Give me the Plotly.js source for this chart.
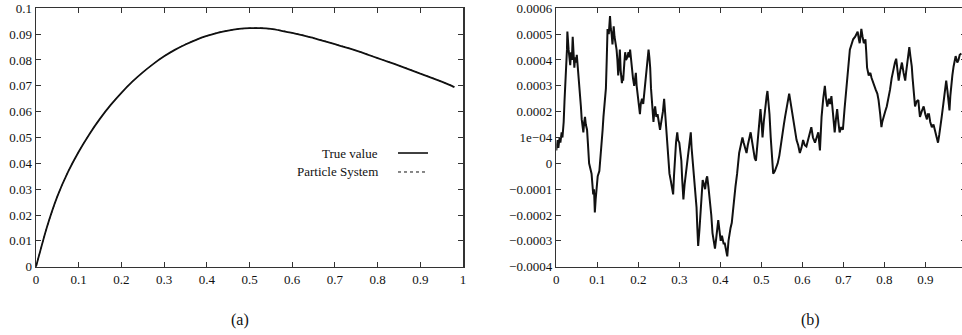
<!DOCTYPE html>
<html>
<head>
<meta charset="utf-8">
<script src="https://cdn.plot.ly/plotly-3.0.1.min.js"></script>
<style>
html, body { margin: 0; padding: 0; overflow: hidden; background: #fff; }
#chart { width: 980px; height: 335px; }
</style>
</head>
<body>
<div id="chart"></div>
<script>
// ---- Panel (a): true value vs particle system ----
const tA = [0, 0.025, 0.05, 0.075, 0.1, 0.125, 0.15, 0.175, 0.2, 0.225, 0.25, 0.275, 0.3, 0.325, 0.35, 0.375, 0.4, 0.425, 0.45, 0.475, 0.5, 0.525, 0.55, 0.575, 0.6, 0.625, 0.65, 0.675, 0.7, 0.725, 0.75, 0.775, 0.8, 0.825, 0.85, 0.875, 0.9, 0.925, 0.95, 0.975, 0.98];
const trueValue = [0, 0.0150, 0.0272, 0.0367, 0.0445, 0.0513, 0.0573, 0.0626, 0.0673, 0.0715, 0.0752, 0.0785, 0.0814, 0.0839, 0.0860, 0.0878, 0.0893, 0.0905, 0.0914, 0.0920, 0.0923, 0.0923, 0.0920, 0.0913, 0.0905, 0.0895, 0.0885, 0.0873, 0.0861, 0.0849, 0.0836, 0.0822, 0.0807, 0.0793, 0.0778, 0.0763, 0.0747, 0.0732, 0.0716, 0.0699, 0.0695];
const particleSystem = [0, 0.0150, 0.0272, 0.0368, 0.0445, 0.0513, 0.0574, 0.0626, 0.0673, 0.0716, 0.0752, 0.0785, 0.0815, 0.0839, 0.0861, 0.0878, 0.0893, 0.0906, 0.0914, 0.0920, 0.0923, 0.0924, 0.0920, 0.0914, 0.0905, 0.0896, 0.0885, 0.0874, 0.0861, 0.0850, 0.0836, 0.0823, 0.0807, 0.0794, 0.0778, 0.0764, 0.0747, 0.0733, 0.0716, 0.0700, 0.0695];
const legendNames = ["True value", "Particle System"];

// ---- Panel (b): error ----
const tB = [0.000,0.003,0.005,0.008,0.010,0.013,0.015,0.018,0.020,0.022,0.024,0.026,0.027,0.028,0.030,0.032,0.034,0.036,0.038,0.040,0.042,0.044,0.046,0.048,0.050,0.052,0.054,0.056,0.058,0.060,0.062,0.064,0.066,0.068,0.070,0.072,0.075,0.077,0.080,0.083,0.086,0.088,0.090,0.092,0.094,0.096,0.098,0.101,0.105,0.108,0.110,0.113,0.115,0.117,0.119,0.121,0.123,0.125,0.128,0.131,0.133,0.135,0.137,0.140,0.142,0.143,0.145,0.147,0.149,0.151,0.153,0.155,0.157,0.160,0.162,0.163,0.166,0.168,0.170,0.173,0.176,0.178,0.180,0.182,0.184,0.187,0.190,0.192,0.194,0.196,0.198,0.201,0.204,0.206,0.209,0.212,0.215,0.218,0.220,0.223,0.225,0.227,0.229,0.231,0.233,0.235,0.237,0.239,0.241,0.244,0.247,0.250,0.253,0.255,0.257,0.260,0.263,0.266,0.269,0.271,0.273,0.276,0.279,0.282,0.285,0.287,0.289,0.292,0.295,0.297,0.300,0.302,0.305,0.307,0.310,0.313,0.316,0.319,0.322,0.325,0.328,0.330,0.333,0.336,0.338,0.340,0.342,0.344,0.346,0.349,0.352,0.355,0.357,0.360,0.363,0.366,0.368,0.371,0.375,0.378,0.381,0.384,0.387,0.390,0.393,0.395,0.398,0.401,0.404,0.408,0.411,0.414,0.417,0.420,0.422,0.425,0.428,0.431,0.433,0.437,0.441,0.443,0.446,0.450,0.454,0.457,0.460,0.464,0.467,0.470,0.474,0.477,0.481,0.484,0.487,0.490,0.493,0.495,0.498,0.501,0.503,0.506,0.509,0.511,0.513,0.515,0.518,0.520,0.523,0.526,0.529,0.533,0.537,0.540,0.544,0.548,0.552,0.555,0.558,0.562,0.565,0.568,0.571,0.574,0.578,0.582,0.584,0.586,0.590,0.594,0.598,0.602,0.606,0.610,0.614,0.618,0.622,0.626,0.631,0.635,0.639,0.643,0.645,0.647,0.651,0.655,0.658,0.661,0.665,0.668,0.671,0.675,0.679,0.682,0.685,0.688,0.691,0.695,0.699,0.703,0.708,0.712,0.716,0.720,0.724,0.729,0.735,0.738,0.740,0.742,0.744,0.747,0.750,0.752,0.754,0.756,0.758,0.762,0.766,0.769,0.771,0.775,0.779,0.783,0.786,0.790,0.793,0.795,0.798,0.802,0.806,0.810,0.814,0.818,0.823,0.826,0.829,0.832,0.835,0.839,0.843,0.847,0.851,0.853,0.855,0.858,0.861,0.864,0.867,0.869,0.871,0.873,0.875,0.879,0.883,0.885,0.887,0.891,0.896,0.900,0.904,0.906,0.909,0.912,0.916,0.920,0.924,0.927,0.931,0.934,0.936,0.938,0.940,0.944,0.947,0.949,0.951,0.954,0.957,0.959,0.961,0.963,0.966,0.969,0.971,0.974,0.978,0.981,0.984,0.988];
const errorB = [0.5e-4,0.9e-4,0.6e-4,1.0e-4,0.8e-4,1.2e-4,1.0e-4,1.6e-4,2.4e-4,3.0e-4,3.6e-4,4.4e-4,5.1e-4,4.6e-4,4.4e-4,4.1e-4,3.8e-4,4.3e-4,4.0e-4,4.9e-4,4.2e-4,3.7e-4,4.1e-4,3.9e-4,4.2e-4,3.8e-4,3.7e-4,3.1e-4,2.6e-4,2.2e-4,1.7e-4,1.4e-4,1.2e-4,1.6e-4,1.8e-4,1.5e-4,1.3e-4,0.8e-4,0.0e-4,-0.2e-4,-0.4e-4,-0.8e-4,-1.2e-4,-1.0e-4,-1.9e-4,-1.4e-4,-0.9e-4,-0.5e-4,-0.3e-4,0.2e-4,0.7e-4,1.3e-4,1.8e-4,2.2e-4,2.5e-4,2.9e-4,4.0e-4,5.2e-4,5.0e-4,5.7e-4,5.2e-4,5.0e-4,4.6e-4,5.3e-4,4.9e-4,4.8e-4,4.5e-4,4.4e-4,4.0e-4,3.4e-4,3.8e-4,4.4e-4,3.6e-4,3.1e-4,3.4e-4,3.2e-4,3.9e-4,4.3e-4,4.0e-4,4.1e-4,4.3e-4,4.1e-4,4.4e-4,4.0e-4,3.7e-4,3.3e-4,3.0e-4,3.2e-4,3.5e-4,3.0e-4,2.7e-4,2.2e-4,1.9e-4,2.3e-4,2.5e-4,2.3e-4,2.8e-4,3.3e-4,3.7e-4,4.2e-4,4.4e-4,4.1e-4,3.7e-4,2.9e-4,2.3e-4,1.9e-4,1.6e-4,2.0e-4,2.2e-4,1.8e-4,1.9e-4,1.6e-4,1.3e-4,1.5e-4,1.7e-4,2.0e-4,2.5e-4,1.8e-4,1.2e-4,0.5e-4,-0.1e-4,-0.4e-4,-0.65e-4,-0.9e-4,-1.2e-4,-0.5e-4,0.3e-4,0.8e-4,1.2e-4,0.9e-4,0.8e-4,0.5e-4,0.1e-4,-0.6e-4,-1.4e-4,-0.8e-4,-0.4e-4,-0.1e-4,0.3e-4,0.7e-4,1.2e-4,0.6e-4,0.1e-4,-0.5e-4,-0.9e-4,-1.3e-4,-1.7e-4,-2.5e-4,-3.2e-4,-2.6e-4,-1.9e-4,-1.2e-4,-0.65e-4,-0.8e-4,-1.0e-4,-0.6e-4,-0.5e-4,-0.9e-4,-1.4e-4,-2.0e-4,-2.7e-4,-3.0e-4,-3.3e-4,-2.9e-4,-2.4e-4,-2.2e-4,-2.6e-4,-3.0e-4,-2.8e-4,-3.1e-4,-3.1e-4,-3.3e-4,-3.6e-4,-3.0e-4,-2.7e-4,-2.5e-4,-2.3e-4,-1.8e-4,-1.4e-4,-0.9e-4,-0.4e-4,0.1e-4,0.4e-4,0.7e-4,1.0e-4,0.8e-4,0.6e-4,0.4e-4,0.7e-4,0.9e-4,1.2e-4,0.9e-4,0.5e-4,0.2e-4,0.1e-4,0.6e-4,1.1e-4,1.4e-4,2.1e-4,1.5e-4,1.0e-4,1.6e-4,2.1e-4,2.45e-4,2.6e-4,2.8e-4,2.4e-4,1.9e-4,1.0e-4,0.2e-4,-0.4e-4,-0.3e-4,-0.1e-4,0.0e-4,0.3e-4,0.8e-4,1.2e-4,1.5e-4,1.8e-4,2.2e-4,2.5e-4,2.7e-4,2.4e-4,2.1e-4,1.6e-4,1.2e-4,1.0e-4,0.9e-4,0.7e-4,0.4e-4,0.6e-4,0.9e-4,0.7e-4,0.65e-4,0.9e-4,1.2e-4,1.4e-4,1.0e-4,0.8e-4,1.0e-4,1.2e-4,0.5e-4,1.2e-4,1.8e-4,2.5e-4,3.0e-4,2.5e-4,2.2e-4,2.5e-4,2.3e-4,2.6e-4,1.9e-4,1.2e-4,1.7e-4,2.1e-4,1.6e-4,1.2e-4,1.4e-4,1.3e-4,2.1e-4,3.1e-4,3.8e-4,4.4e-4,4.6e-4,4.8e-4,4.9e-4,5.1e-4,4.8e-4,4.65e-4,4.9e-4,5.2e-4,4.9e-4,4.65e-4,4.7e-4,4.8e-4,4.3e-4,3.7e-4,3.4e-4,3.5e-4,3.3e-4,3.2e-4,3.0e-4,2.85e-4,2.7e-4,2.45e-4,1.9e-4,1.4e-4,1.6e-4,1.8e-4,2.0e-4,2.2e-4,2.5e-4,2.85e-4,3.3e-4,3.75e-4,3.9e-4,4.05e-4,3.6e-4,3.2e-4,3.6e-4,3.9e-4,3.5e-4,3.2e-4,3.5e-4,3.75e-4,4.1e-4,4.5e-4,4.1e-4,3.75e-4,3.3e-4,2.85e-4,2.5e-4,2.2e-4,2.4e-4,2.45e-4,2.1e-4,1.8e-4,2.0e-4,2.2e-4,1.9e-4,1.7e-4,1.9e-4,1.9e-4,1.6e-4,1.4e-4,1.5e-4,1.2e-4,1.0e-4,0.8e-4,1.1e-4,1.4e-4,1.6e-4,1.8e-4,2.3e-4,2.7e-4,3.0e-4,3.2e-4,2.8e-4,2.45e-4,2.05e-4,2.6e-4,3.0e-4,3.4e-4,3.75e-4,4.0e-4,4.15e-4,3.9e-4,4.0e-4,4.2e-4,4.25e-4];

const xTickValsB = [0, 0.1, 0.2, 0.3, 0.4, 0.5, 0.6, 0.7, 0.8, 0.9];
const yTickValsB = [-0.0004, -0.0003, -0.0002, -0.0001, 0, 0.0001, 0.0002, 0.0003, 0.0004, 0.0005, 0.0006];
const yTickTextB = ["\u22120.0004", "\u22120.0003", "\u22120.0002", "\u22120.0001", "0", "1e\u221204", "0.0002", "0.0003", "0.0004", "0.0005", "0.0006"];
const captions = ["(a)", "(b)"];

const FONT = "Liberation Serif, Times New Roman, serif";
const W = 980, H = 335;
const px = v => v / W;

const axisCommon = {
  showline: true, linecolor: "#333", linewidth: 1.5, mirror: "ticks",
  ticks: "inside", ticklen: 5, tickwidth: 1, tickcolor: "#333",
  showgrid: false, zeroline: false, automargin: false,
  tickfont: { family: FONT, size: 13, color: "#111" }
};

const traces = [
  { x: tA, y: trueValue, type: "scatter", mode: "lines", name: legendNames[0],
    line: { color: "#111", width: 1.8, shape: "spline", smoothing: 0.6 }, xaxis: "x", yaxis: "y" },
  { x: tA, y: particleSystem, type: "scatter", mode: "lines", name: legendNames[1],
    line: { color: "#111", width: 1, dash: "dot", shape: "spline", smoothing: 0.6 }, xaxis: "x", yaxis: "y" },
  { x: tB, y: errorB, type: "scatter", mode: "lines", name: "error",
    line: { color: "#111", width: 2 }, xaxis: "x2", yaxis: "y2" }
];

const yDom = [(H - 266.7) / H, (H - 8.3) / H];

const layout = {
  width: W, height: H,
  margin: { l: 0, r: 0, t: 0, b: 0 },
  paper_bgcolor: "#fff", plot_bgcolor: "#fff",
  showlegend: false,
  font: { family: FONT, size: 13, color: "#111" },
  xaxis: Object.assign({}, axisCommon, { domain: [px(36), px(463)], range: [0, 1], dtick: 0.1, anchor: "y" }),
  yaxis: Object.assign({}, axisCommon, { domain: yDom, range: [0, 0.1], dtick: 0.01, anchor: "x" }),
  xaxis2: Object.assign({}, axisCommon, { domain: [px(556.3), px(966.3)], range: [0, 1], tickvals: xTickValsB, anchor: "y2" }),
  yaxis2: Object.assign({}, axisCommon, { domain: yDom, range: [-0.0004, 0.0006], tickvals: yTickValsB, ticktext: yTickTextB, anchor: "x2" }),
  annotations: [
    { text: legendNames[0], xref: "x domain", yref: "y domain", x: 0.8056, y: 0.440, xanchor: "right", yanchor: "middle", showarrow: false, font: { family: FONT, size: 13, color: "#111" } },
    { text: legendNames[1], xref: "x domain", yref: "y domain", x: 0.8056, y: 0.3665, xanchor: "right", yanchor: "middle", showarrow: false, font: { family: FONT, size: 13, color: "#111" } },
    { text: captions[0], xref: "paper", yref: "paper", x: px(240), y: (H - 320) / H, xanchor: "center", yanchor: "middle", showarrow: false, font: { family: FONT, size: 16, color: "#111" } },
    { text: captions[1], xref: "paper", yref: "paper", x: px(810), y: (H - 320) / H, xanchor: "center", yanchor: "middle", showarrow: false, font: { family: FONT, size: 16, color: "#111" } }
  ],
  shapes: [
    { type: "line", xref: "x domain", yref: "y domain", x0: 0.8478, x1: 0.918, y0: 0.440, y1: 0.440, line: { color: "#111", width: 1.6 } },
    { type: "line", xref: "x domain", yref: "y domain", x0: 0.8478, x1: 0.918, y0: 0.3665, y1: 0.3665, line: { color: "#111", width: 1, dash: "dot" } }
  ]
};

Plotly.newPlot("chart", traces, layout, { staticPlot: true, displayModeBar: false });
</script>
</body>
</html>
